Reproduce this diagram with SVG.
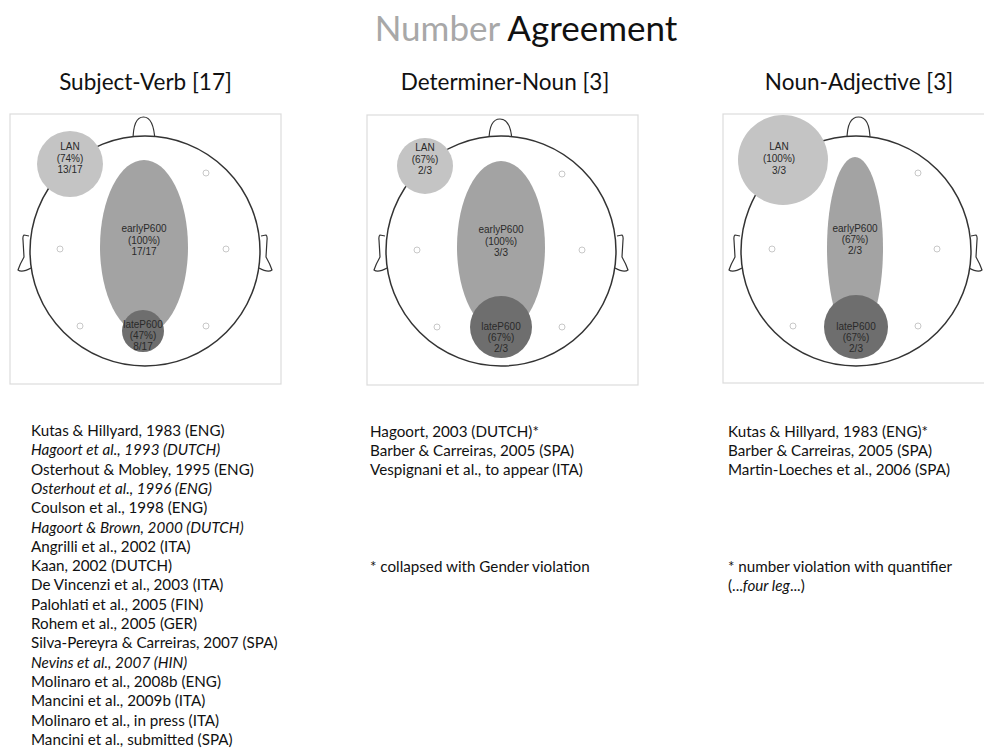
<svg xmlns="http://www.w3.org/2000/svg" width="984" height="753" viewBox="0 0 984 753">
<style>
.bg{fill:#fff}
.box{fill:#fff;stroke:#dcdcdc;stroke-width:1.2}
.head{fill:#fff;stroke:#333;stroke-width:1.5}
.ear{fill:#fff;stroke:#333;stroke-width:1.2;stroke-linejoin:round}
.el{fill:#fff;stroke:#c8c8c8;stroke-width:1}
.lan{fill:#c4c4c4}
.early{fill:#a3a3a3}
.late{fill:#6e6e6e}
.lbl{font-family:"Liberation Sans",Arial,sans-serif;font-size:10px;fill:#2a2a2a;text-anchor:middle}
.title{font-family:Lato,"Open Sans",sans-serif;font-size:35px}
.sub{font-family:Lato,"Open Sans",sans-serif;font-size:22.5px;fill:#111;text-anchor:middle}
.ref{font-family:Lato,"Open Sans",sans-serif;font-size:15.2px;fill:#111}
.it{font-style:italic}
</style>
<rect class="bg" x="0" y="0" width="984" height="753"/>
<text class="title" x="526" y="41" text-anchor="middle"><tspan fill="#a8a8a8">Number</tspan> <tspan fill="#111">Agreement</tspan></text>

<g id="panel-subject-verb">
<text class="sub" x="145.5" y="90">Subject-Verb [17]</text>
<rect class="box" x="10" y="114" width="271" height="270"/>
<path class="ear" d="M29,236 L24,235 Q22.5,236 23,240 L24,257 Q20,264 18,270 Q22,273 31,268"/>
<path class="ear" d="M261,236 L266,235 Q267.5,236 267,240 L266,257 Q270,264 272,270 Q268,273 259,268"/>
<path class="ear" d="M133,141 C133,122 138,117 143.5,117 C149,117 154,122 155,141"/>
<circle class="head" cx="145" cy="251" r="115"/>
<circle class="el" cx="206" cy="173" r="3"/>
<circle class="el" cx="60" cy="249" r="3"/>
<circle class="el" cx="226" cy="249" r="3"/>
<circle class="el" cx="80" cy="326" r="3"/>
<circle class="el" cx="206" cy="326" r="3"/>
<ellipse class="early" cx="144" cy="247" rx="44" ry="87"/>
<circle class="lan" cx="70" cy="164" r="33"/>
<circle class="late" cx="143" cy="331" r="21"/>
<text class="lbl" x="70" y="150">LAN</text>
<text class="lbl" x="70" y="162">(74%)</text>
<text class="lbl" x="70" y="173">13/17</text>
<text class="lbl" x="144" y="232">earlyP600</text>
<text class="lbl" x="144" y="243.5">(100%)</text>
<text class="lbl" x="144" y="255">17/17</text>
<text class="lbl" x="143" y="328">lateP600</text>
<text class="lbl" x="143" y="339">(47%)</text>
<text class="lbl" x="143" y="350">8/17</text>
</g>

<g id="panel-determiner-noun">
<text class="sub" x="505" y="90">Determiner-Noun [3]</text>
<rect class="box" x="367" y="115" width="271" height="270"/>
<path class="ear" d="M385,236 L380,235 Q378.5,236 379,240 L380,257 Q376,264 374,270 Q378,273 387,268"/>
<path class="ear" d="M617,236 L622,235 Q623.5,236 623,240 L622,257 Q626,264 628,270 Q624,273 615,268"/>
<path class="ear" d="M489,141 C489,123 494,119 500,119 C506,119 511,123 512,141"/>
<circle class="head" cx="501" cy="251" r="115"/>
<circle class="el" cx="562" cy="174" r="3"/>
<circle class="el" cx="417" cy="250" r="3"/>
<circle class="el" cx="582" cy="250" r="3"/>
<circle class="el" cx="437" cy="327" r="3"/>
<circle class="el" cx="562" cy="327" r="3"/>
<ellipse class="early" cx="501" cy="247" rx="44" ry="86"/>
<circle class="lan" cx="425" cy="166" r="28"/>
<circle class="late" cx="501" cy="327" r="31"/>
<text class="lbl" x="425" y="151">LAN</text>
<text class="lbl" x="425" y="163">(67%)</text>
<text class="lbl" x="425" y="174">2/3</text>
<text class="lbl" x="501" y="233">earlyP600</text>
<text class="lbl" x="501" y="244.5">(100%)</text>
<text class="lbl" x="501" y="256">3/3</text>
<text class="lbl" x="501" y="330">lateP600</text>
<text class="lbl" x="501" y="341">(67%)</text>
<text class="lbl" x="501" y="352">2/3</text>
</g>

<g id="panel-noun-adjective">
<text class="sub" x="859" y="90">Noun-Adjective [3]</text>
<rect class="box" x="723" y="114" width="271" height="269"/>
<path class="ear" d="M740,236 L735,235 Q733.5,236 734,240 L735,257 Q731,264 729,270 Q733,273 742,268"/>
<path class="ear" d="M971,236 L976,235 Q977.5,236 977,240 L976,257 Q980,264 982,270 Q978,273 969,268"/>
<path class="ear" d="M847,140 C847,122 852,117 858.5,117 C865,117 870,122 870,140"/>
<circle class="head" cx="856" cy="251" r="115"/>
<circle class="el" cx="918" cy="173" r="3"/>
<circle class="el" cx="772" cy="249" r="3"/>
<circle class="el" cx="937" cy="249" r="3"/>
<circle class="el" cx="793" cy="326" r="3"/>
<circle class="el" cx="918" cy="326" r="3"/>
<ellipse class="early" cx="855" cy="248" rx="28" ry="91"/>
<circle class="lan" cx="783" cy="160" r="45"/>
<circle class="late" cx="856" cy="327" r="32"/>
<text class="lbl" x="779" y="150">LAN</text>
<text class="lbl" x="779" y="162">(100%)</text>
<text class="lbl" x="779" y="174">3/3</text>
<text class="lbl" x="855" y="232">earlyP600</text>
<text class="lbl" x="855" y="243">(67%)</text>
<text class="lbl" x="855" y="254">2/3</text>
<text class="lbl" x="856" y="330">lateP600</text>
<text class="lbl" x="856" y="341">(67%)</text>
<text class="lbl" x="856" y="352">2/3</text>
</g>

<g id="refs-subject-verb" class="ref">
<text x="31" y="436">Kutas &amp; Hillyard, 1983 (ENG)</text>
<text x="31" y="455.3" class="it">Hagoort et al., 1993 (DUTCH)</text>
<text x="31" y="474.6">Osterhout &amp; Mobley, 1995 (ENG)</text>
<text x="31" y="493.9" class="it">Osterhout et al., 1996 (ENG)</text>
<text x="31" y="513.2">Coulson et al., 1998 (ENG)</text>
<text x="31" y="532.5" class="it">Hagoort &amp; Brown, 2000 (DUTCH)</text>
<text x="31" y="551.8">Angrilli et al., 2002 (ITA)</text>
<text x="31" y="571.1">Kaan, 2002 (DUTCH)</text>
<text x="31" y="590.4">De Vincenzi et al., 2003 (ITA)</text>
<text x="31" y="609.7">Palohlati et al., 2005 (FIN)</text>
<text x="31" y="629">Rohem et al., 2005 (GER)</text>
<text x="31" y="648.3">Silva-Pereyra &amp; Carreiras, 2007 (SPA)</text>
<text x="31" y="667.6" class="it">Nevins et al., 2007 (HIN)</text>
<text x="31" y="686.9">Molinaro et al., 2008b (ENG)</text>
<text x="31" y="706.2">Mancini et al., 2009b (ITA)</text>
<text x="31" y="725.5">Molinaro et al., in press (ITA)</text>
<text x="31" y="744.8">Mancini et al., submitted (SPA)</text>
</g>

<g id="refs-determiner-noun" class="ref">
<text x="370" y="437">Hagoort, 2003 (DUTCH)*</text>
<text x="370" y="456">Barber &amp; Carreiras, 2005 (SPA)</text>
<text x="370" y="475">Vespignani et al., to appear (ITA)</text>
<text x="370" y="572">* collapsed with Gender violation</text>
</g>

<g id="refs-noun-adjective" class="ref">
<text x="728" y="437">Kutas &amp; Hillyard, 1983 (ENG)*</text>
<text x="728" y="456">Barber &amp; Carreiras, 2005 (SPA)</text>
<text x="728" y="475">Martin-Loeches et al., 2006 (SPA)</text>
<text x="728" y="572">* number violation with quantifier</text>
<text x="728" y="591">(...<tspan class="it">four leg</tspan>...)</text>
</g>

<g id="connectors"></g>
</svg>
